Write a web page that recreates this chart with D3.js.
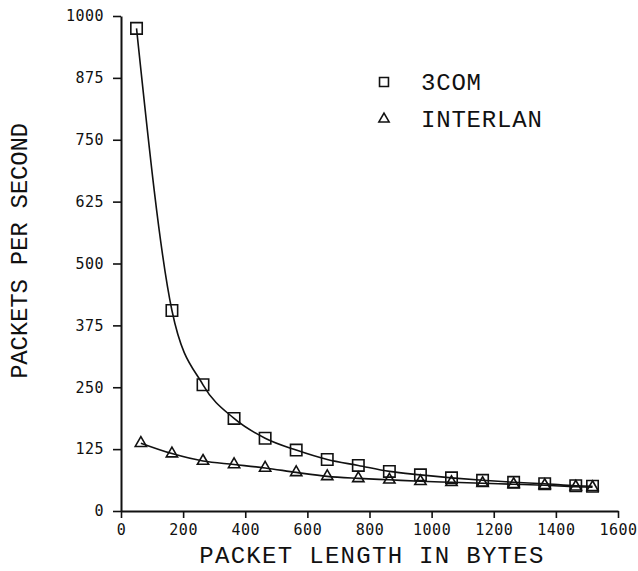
<!DOCTYPE html>
<html>
<head>
<meta charset="utf-8">
<script src="https://cdn.jsdelivr.net/npm/d3@7"></script>
<style>
  body { margin: 0; background: #fff; }
  svg text { font-family: "Liberation Mono", "DejaVu Sans Mono", monospace; fill: #111; }
</style>
</head>
<body>
<svg id="chart" width="638" height="571"></svg>
<script>
// packet length (bytes) and throughput (packets/s)
var bytes3com    = [50, 164, 264, 364, 464, 564, 664, 764, 864, 964, 1064, 1164, 1264, 1364, 1464, 1518];
var pps3com      = [975, 405, 255, 187, 147, 123, 104, 92, 80, 73, 67, 62, 58, 55, 51, 50];
var bytesInterlan = [64, 164, 264, 364, 464, 564, 664, 764, 864, 964, 1064, 1164, 1264, 1364, 1464, 1518];
var ppsInterlan   = [137, 116, 101, 94, 87, 78, 70, 66, 63, 60, 58, 56, 54, 52, 49, 48];

var seriesNames = ["3COM", "INTERLAN"];
var xTicks = [0, 200, 400, 600, 800, 1000, 1200, 1400, 1600];
var yTicks = [0, 125, 250, 375, 500, 625, 750, 875, 1000];

var svg = d3.select("#chart");

var x = d3.scaleLinear().domain([0, 1600]).range([121, 618]);
var y = d3.scaleLinear().domain([0, 1000]).range([511, 16]);

//////////////////////////////////////////////////////////////////////////////
// AXES
//////////////////////////////////////////////////////////////////////////////

var yAxis = svg.append("g")
  .attr("transform", "translate(" + x(0) + ",0)")
  .call(d3.axisLeft(y).tickValues(yTicks).tickSize(8).tickSizeOuter(0).tickPadding(9)
    .tickFormat(d3.format("d")));

var xAxis = svg.append("g")
  .attr("transform", "translate(0," + y(0) + ")")
  .call(d3.axisBottom(x).tickValues(xTicks).tickSize(7).tickSizeOuter(0).tickPadding(6)
    .tickFormat(d3.format("d")));

[xAxis, yAxis].forEach(function(ax) {
  ax.select(".domain").attr("stroke", "#111").attr("stroke-width", 2);
  ax.selectAll(".tick line").attr("stroke", "#111").attr("stroke-width", 1.6);
  ax.selectAll(".tick text")
    .style("font-family", "\"DejaVu Sans Mono\", monospace")
    .attr("font-size", 15)
    .style("letter-spacing", "0.5px")
    .attr("fill", "#111");
});

// axis titles
svg.append("text")
  .attr("x", 372).attr("y", 563)
  .attr("text-anchor", "middle")
  .attr("font-size", 24)
  .style("letter-spacing", "1.3px")
  .text("PACKET LENGTH IN BYTES");

svg.append("text")
  .attr("transform", "translate(27,251) rotate(-90)")
  .attr("text-anchor", "middle")
  .attr("font-size", 24)
  .style("letter-spacing", "-0.2px")
  .text("PACKETS PER SECOND");

//////////////////////////////////////////////////////////////////////////////
// SERIES
//////////////////////////////////////////////////////////////////////////////

var line = d3.line()
  .x(function(d) { return x(d[0]); })
  .y(function(d) { return y(d[1]); })
  .curve(d3.curveMonotoneX);

var data3com = d3.zip(bytes3com, pps3com);
var dataInterlan = d3.zip(bytesInterlan, ppsInterlan);

[data3com, dataInterlan].forEach(function(data) {
  svg.append("path")
    .datum(data)
    .attr("d", line)
    .attr("fill", "none")
    .attr("stroke", "#111")
    .attr("stroke-width", 1.6);
});

var square = d3.symbol().type(d3.symbolSquare).size(130);
var triangle = d3.symbol().type(d3.symbolTriangle).size(55);

svg.append("g").selectAll("path")
  .data(dataInterlan)
  .join("path")
  .attr("transform", function(d) { return "translate(" + x(d[0]) + "," + y(d[1]) + ")"; })
  .attr("d", triangle)
  .attr("fill", "none")
  .attr("stroke", "#111")
  .attr("stroke-width", 1.6);

svg.append("g").selectAll("path")
  .data(data3com)
  .join("path")
  .attr("transform", function(d) { return "translate(" + x(d[0]) + "," + y(d[1]) + ")"; })
  .attr("d", square)
  .attr("fill", "none")
  .attr("stroke", "#111")
  .attr("stroke-width", 1.6);

//////////////////////////////////////////////////////////////////////////////
// LEGEND
//////////////////////////////////////////////////////////////////////////////

var legend = svg.append("g").attr("transform", "translate(384,82)");
var legendSymbols = [d3.symbol().type(d3.symbolSquare).size(80), d3.symbol().type(d3.symbolTriangle).size(45)];

seriesNames.forEach(function(name, i) {
  var row = legend.append("g").attr("transform", "translate(0," + (i * 37) + ")");
  row.append("path")
    .attr("d", legendSymbols[i])
    .attr("fill", "none")
    .attr("stroke", "#111")
    .attr("stroke-width", 1.6);
  row.append("text")
    .attr("x", 37).attr("y", 0).attr("dy", "0.35em")
    .attr("font-size", 24)
    .style("letter-spacing", "0.8px")
    .text(name);
});
</script>
</body>
</html>
